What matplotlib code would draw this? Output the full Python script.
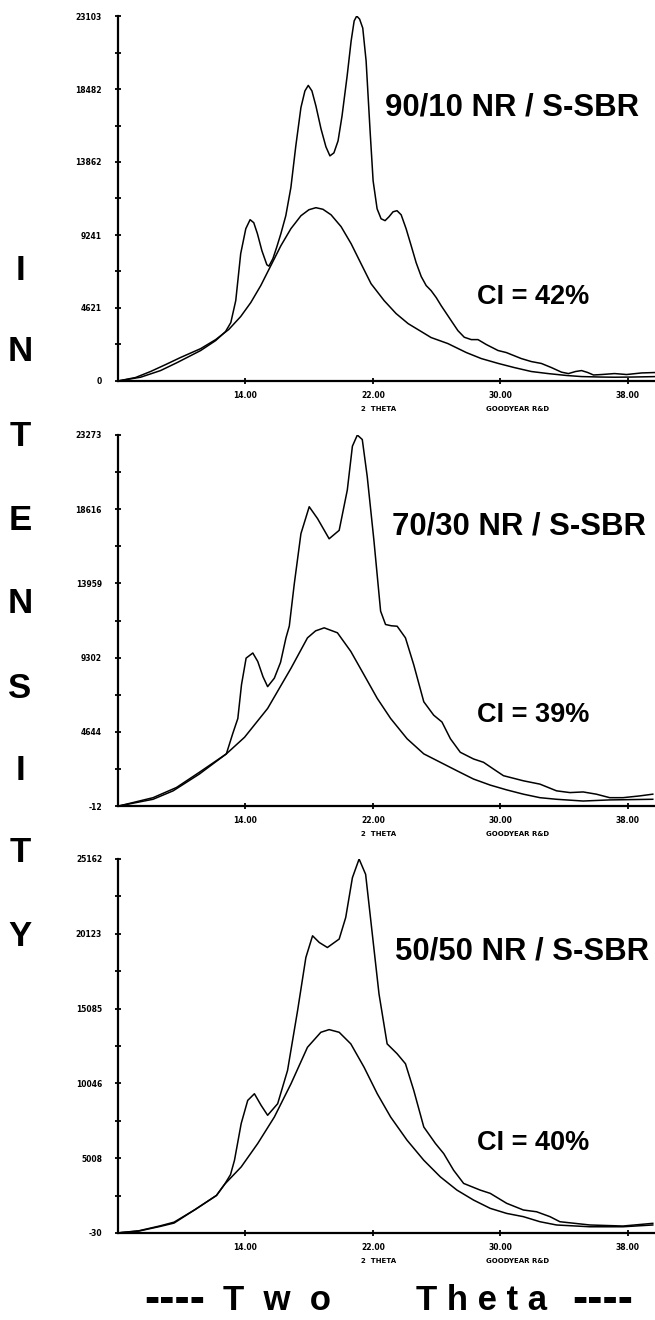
import numpy as np
import matplotlib
matplotlib.use("Agg")
import matplotlib.pyplot as plt
from matplotlib import font_manager

# ---- data (2 theta, intensity) ----
p1_total_x = [6.0, 7.42, 8.67, 9.72, 11.19, 12.13, 12.75, 13.08, 13.39, 13.70, 14.02, 14.29, 14.52,
              14.75, 15.03, 15.34, 15.47, 15.72, 15.97, 16.22, 16.53, 16.85, 17.16, 17.48, 17.73,
              17.94, 18.17, 18.42, 18.74, 19.05, 19.30, 19.55, 19.81, 20.06, 20.38, 20.63, 20.82,
              20.98, 21.16, 21.36, 21.57, 21.82, 22.01, 22.26, 22.51, 22.76, 23.01, 23.26, 23.51,
              23.77, 24.08, 24.40, 24.71, 25.03, 25.34, 25.65, 25.97, 26.28, 26.91, 27.33, 27.73,
              28.17, 28.59, 29.11, 29.85, 30.37, 31.31, 31.94, 32.57, 33.20, 33.83, 34.27, 34.71,
              35.09, 35.47, 35.84, 36.35, 37.16, 37.92, 38.86, 39.80]
p1_total_y = [0, 240, 660, 1170, 1930, 2560, 3130, 3700, 5090, 8060, 9640, 10210, 10020,
              9320, 8250, 7360, 7270, 7740, 8500, 9320, 10460, 12250, 14890, 17310, 18360,
              18710, 18360, 17410, 15960, 14820, 14250, 14440, 15200, 16780, 19310, 21520, 22790,
              23100, 22910, 22340, 20260, 15830, 12670, 10900, 10270, 10150, 10400, 10710, 10780,
              10520, 9640, 8560, 7490, 6610, 6040, 5720, 5280, 4770, 3820, 3190, 2770,
              2620, 2620, 2310, 1930, 1800, 1420, 1230, 1110, 850, 560, 470, 600,
              660, 540, 380, 410, 470, 410, 510, 540]
p1_amorph_x = [6.0, 7.10, 8.04, 8.99, 9.93, 11.19, 12.13, 12.95, 13.70, 14.33, 14.96, 15.59, 16.22,
               16.85, 17.48, 17.98, 18.42, 18.86, 19.37, 20.0, 20.63, 21.25, 21.88, 22.70, 23.45,
               24.21, 25.03, 25.65, 26.70, 27.86, 28.80, 29.87, 30.87, 31.94, 32.99, 34.14, 35.09,
               36.35, 37.16, 38.23, 39.80]
p1_amorph_y = [0, 220, 600, 1040, 1490, 2050, 2620, 3260, 4080, 4960, 6040, 7300, 8560,
               9640, 10460, 10840, 10970, 10870, 10520, 9770, 8690, 7430, 6160, 5090, 4270,
               3630, 3130, 2750, 2370, 1800, 1420, 1110, 850, 600, 470, 350, 280,
               250, 240, 250, 280]

p2_total_x = [6.1, 8.2, 9.46, 11.1, 12.8, 13.2, 13.52, 13.75, 14.04, 14.46, 14.77, 15.1, 15.39,
              15.81, 16.2, 16.54, 16.75, 17.06, 17.48, 18.0, 18.52, 19.25, 19.88, 20.39, 20.71,
              21.02, 21.33, 21.64, 22.06, 22.48, 22.79, 23.15, 23.52, 24.04, 24.56, 25.19, 25.81,
              26.33, 26.86, 27.48, 28.31, 28.94, 29.56, 30.19, 31.44, 32.48, 33.52, 34.36, 35.19,
              36.02, 36.86, 37.69, 38.73, 39.56]
p2_total_y = [0, 410, 940, 1990, 3260, 4530, 5480, 7600, 9270, 9590, 9060, 8100, 7480,
              8010, 9000, 10540, 11280, 13910, 17080, 18770, 18030, 16760, 17290, 19820, 22570,
              23270, 22990, 20670, 16660, 12220, 11380, 11300, 11270, 10540, 8850, 6530, 5690,
              5260, 4210, 3360, 2940, 2730, 2310, 1890, 1570, 1360, 940, 830, 870,
              730, 510, 510, 620, 730]
p2_amorph_x = [6.1, 8.2, 9.67, 11.1, 12.8, 13.94, 15.39, 16.86, 17.89, 18.4, 18.94, 19.77, 20.61,
               21.44, 22.27, 23.11, 24.14, 25.19, 26.23, 27.27, 28.31, 29.36, 30.39, 31.44, 32.48,
               33.52, 35.19, 36.86, 39.56]
p2_amorph_y = [0, 510, 1150, 2100, 3260, 4300, 6110, 8640, 10540, 10980, 11170, 10860, 9690,
               8220, 6740, 5480, 4210, 3260, 2730, 2200, 1680, 1300, 1000, 730, 510,
               410, 300, 370, 410]

p3_total_x = [6.2, 7.31, 8.64, 9.52, 10.84, 12.18, 12.69, 13.06, 13.31, 13.73, 14.14, 14.56, 14.98,
              15.39, 16.02, 16.64, 17.27, 17.79, 18.21, 18.63, 19.14, 19.88, 20.29, 20.71, 21.13,
              21.54, 21.96, 22.38, 22.89, 23.52, 24.04, 24.56, 25.19, 25.92, 26.44, 27.06, 27.69,
              28.73, 29.36, 30.39, 31.44, 32.27, 33.11, 33.73, 35.61, 37.69, 39.56]
p3_total_y = [0, 100, 410, 640, 1550, 2500, 3250, 3900, 4870, 7340, 8900, 9350, 8570,
              7900, 8680, 10920, 14950, 18530, 19990, 19540, 19200, 19770, 21220, 23900, 25160,
              24130, 20100, 16070, 12710, 12040, 11370, 9580, 7110, 6000, 5320, 4200, 3310,
              2860, 2640, 1970, 1520, 1400, 1070, 730, 510, 440, 620]
p3_amorph_x = [6.2, 7.31, 8.64, 9.52, 10.84, 12.18, 12.69, 13.73, 14.77, 15.81, 16.86, 17.89, 18.73,
               19.25, 19.88, 20.61, 21.44, 22.27, 23.11, 24.14, 25.19, 26.23, 27.27, 28.31, 29.36,
               30.39, 31.44, 32.48, 33.52, 35.61, 37.69, 39.56]
p3_amorph_y = [0, 120, 450, 700, 1550, 2500, 3250, 4420, 6000, 7780, 10030, 12480, 13490,
               13670, 13490, 12710, 11140, 9350, 7780, 6220, 4870, 3750, 2860, 2190, 1630,
               1290, 1070, 730, 510, 390, 390, 510]

y_tick_values = [
    [0, 4621, 9241, 13862, 18482, 23103],
    [-12, 4644, 9302, 13959, 18616, 23273],
    [-30, 5008, 10046, 15085, 20123, 25162],
]
x_tick_values = [14, 22, 30, 38]
x_tick_labels = ["14.00", "22.00", "30.00", "38.00"]
blend_names = ["90/10 NR / S-SBR", "70/30 NR / S-SBR", "50/50 NR / S-SBR"]
ci_labels = ["CI = 42%", "CI = 39%", "CI = 40%"]

totals = [(p1_total_x, p1_total_y), (p2_total_x, p2_total_y), (p3_total_x, p3_total_y)]
amorphs = [(p1_amorph_x, p1_amorph_y), (p2_amorph_x, p2_amorph_y), (p3_amorph_x, p3_amorph_y)]

installed = {f.name for f in font_manager.fontManager.ttflist}
narrow = "Liberation Sans Narrow" if "Liberation Sans Narrow" in installed else "Liberation Sans"

W, H = 655, 1320
fig = plt.figure(figsize=(W / 100, H / 100), dpi=100)

# axes frames in pixels: (top, bottom)
frames = [(16, 381), (435, 806), (859, 1233)]
title_pos = [(385, 107), (392, 527), (395, 952)]
ci_pos = [(477, 297), (477, 715), (477, 1143)]

for i in range(3):
    top, bot = frames[i]
    ax = fig.add_axes([118 / W, 1 - bot / H, (W - 118) / W, (bot - top) / H])
    ax.plot(*totals[i], color="black", lw=1.1)
    ax.plot(*amorphs[i], color="black", lw=1.1)

    yt = y_tick_values[i]
    ax.set_xlim(6, 39.7)
    ax.set_ylim(yt[0], yt[-1])
    ax.set_yticks(yt)
    ax.set_yticklabels([str(v) for v in yt])
    ax.set_yticks([(a + b) / 2 for a, b in zip(yt[:-1], yt[1:])], minor=True)
    ax.set_xticks(x_tick_values)
    ax.set_xticklabels(x_tick_labels)

    for s in ["top", "right"]:
        ax.spines[s].set_visible(False)
    for s in ["left", "bottom"]:
        ax.spines[s].set_linewidth(1.6)

    ax.tick_params(axis="both", which="both", direction="inout", length=5, width=1.3,
                   labelsize=5.5)
    ax.tick_params(axis="y", pad=9)
    ax.tick_params(axis="x", pad=5)
    for lab in ax.get_xticklabels() + ax.get_yticklabels():
        lab.set_fontweight("bold")

    ax.annotate("2  THETA", xy=(22, 0), xycoords=("data", "axes fraction"),
                xytext=(4, -20), textcoords="offset points", ha="center", va="center",
                fontsize=5, fontweight="bold")
    ax.annotate("GOODYEAR R&D", xy=(30, 0), xycoords=("data", "axes fraction"),
                xytext=(12, -20), textcoords="offset points", ha="center", va="center",
                fontsize=5, fontweight="bold")

    fig.text(title_pos[i][0] / W, 1 - title_pos[i][1] / H, blend_names[i],
             family="Liberation Sans", fontweight="bold", fontsize=22.4, ha="left", va="center")
    fig.text(ci_pos[i][0] / W, 1 - ci_pos[i][1] / H, ci_labels[i],
             family="Liberation Sans", fontweight="bold", fontsize=19.5, ha="left", va="center")

# vertical "INTENSITY" down the left side
for ch, yy in zip("INTENSITY", [270, 352, 437, 520, 604, 688, 770, 853, 937]):
    fig.text(20 / W, 1 - yy / H, ch, family=narrow, fontweight="bold", fontsize=25,
             ha="center", va="center")

# bottom axis caption
for txt, xx, fs in [("----", 175, 33), ("T  w  o", 277, 25), ("T h e t a", 481, 25),
                    ("----", 603, 33)]:
    fig.text(xx / W, 1 - 1300 / H, txt, family=narrow, fontweight="bold", fontsize=fs,
             ha="center", va="center")

fig.savefig("out.png", dpi=100, facecolor="white")
